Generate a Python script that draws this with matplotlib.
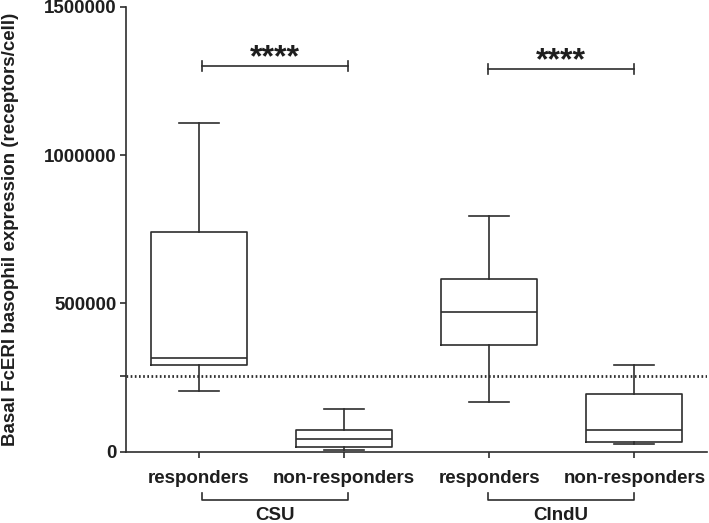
import matplotlib
matplotlib.use("Agg")
import matplotlib.pyplot as plt

plt.rcParams['font.family'] = ['Liberation Sans', 'DejaVu Sans']
plt.rcParams['font.weight'] = 'bold'

# box plot summaries (min, Q1, median, Q3, max)
groups = ["responders", "non-responders", "responders", "non-responders"]
whislo = [205000, 5000, 166000, 27000]
q1 = [291000, 15000, 359000, 33000]
med = [316000, 44000, 472000, 74000]
q3 = [740000, 72000, 582000, 195000]
whishi = [1109000, 144000, 794000, 293000]

threshold = 256000
conditions = ["CSU", "CIndU"]
stars = ["****", "****"]
star_bar_y = [1300000, 1290000]

line_col = "#2e2e2e"
text_col = "#1e1e1e"

fig = plt.figure(figsize=(7.09, 5.23), dpi=100)
ax = fig.add_axes([0.1777, 0.1363, 0.8195, 0.8507])

stats = []
for i in range(len(groups)):
    stats.append({"whislo": whislo[i], "q1": q1[i], "med": med[i],
                  "q3": q3[i], "whishi": whishi[i], "fliers": []})

props = dict(color=line_col, linewidth=1.2)
ax.bxp(stats, positions=range(len(groups)), widths=0.66, showfliers=False,
       boxprops=props, whiskerprops=props, capprops=props,
       medianprops=props, capwidths=0.275)

# dotted cut-off line
ax.axhline(threshold, color=line_col, linestyle=(0, (0.6, 0.9)), linewidth=2.0)

ax.set_xlim(-0.5, 3.5)
ax.set_ylim(0, 1500000)
ax.set_yticks([0, 500000, 1000000, 1500000])
ax.set_yticklabels(["0", "500000", "1000000", "1500000"])
ax.set_yticks([threshold], minor=True)
ax.set_xticks(range(len(groups)))
ax.set_xticklabels(groups)

for s in ["top", "right"]:
    ax.spines[s].set_visible(False)
for s in ["left", "bottom"]:
    ax.spines[s].set_linewidth(1.2)
    ax.spines[s].set_color(line_col)
ax.tick_params(axis="both", which="both", colors=line_col, width=1.2,
               labelsize=13.5, labelcolor=text_col)
ax.tick_params(axis="y", which="both", length=4.5, pad=2)
ax.tick_params(axis="x", length=4, pad=9)

fig.text(0.0155, 1 - 229 / 523, "Basal FcERI basophil expression (receptors/cell)",
         rotation=90, ha="center", va="center", fontsize=13.5,
         fontweight="bold", color=text_col)

# significance brackets
arm = 18000
for k, (x0, x1) in enumerate([(0.02, 1.03), (1.99, 3.0)]):
    y = star_bar_y[k]
    ax.plot([x0, x1], [y, y], color=line_col, lw=1.2)
    ax.plot([x0, x0], [y - arm, y + arm], color=line_col, lw=1.2)
    ax.plot([x1, x1], [y - arm, y + arm], color=line_col, lw=1.2)
    ax.text((x0 + x1) / 2, y + 1000, stars[k], ha="center", va="baseline",
            fontsize=23, fontweight="bold", color=text_col)

# condition brackets below the axis
tr = ax.get_xaxis_transform()
for k, (x0, x1) in enumerate([(0.02, 1.03), (1.99, 3.0)]):
    ax.plot([x0, x0, x1, x1], [-0.093, -0.1086, -0.1086, -0.093],
            color=line_col, lw=1.2, transform=tr, clip_on=False)
    ax.text((x0 + x1) / 2, -0.1235, conditions[k], ha="center", va="top",
            fontsize=13.5, fontweight="bold", color=text_col,
            transform=tr, clip_on=False)

fig.savefig("out.png", dpi=100)
